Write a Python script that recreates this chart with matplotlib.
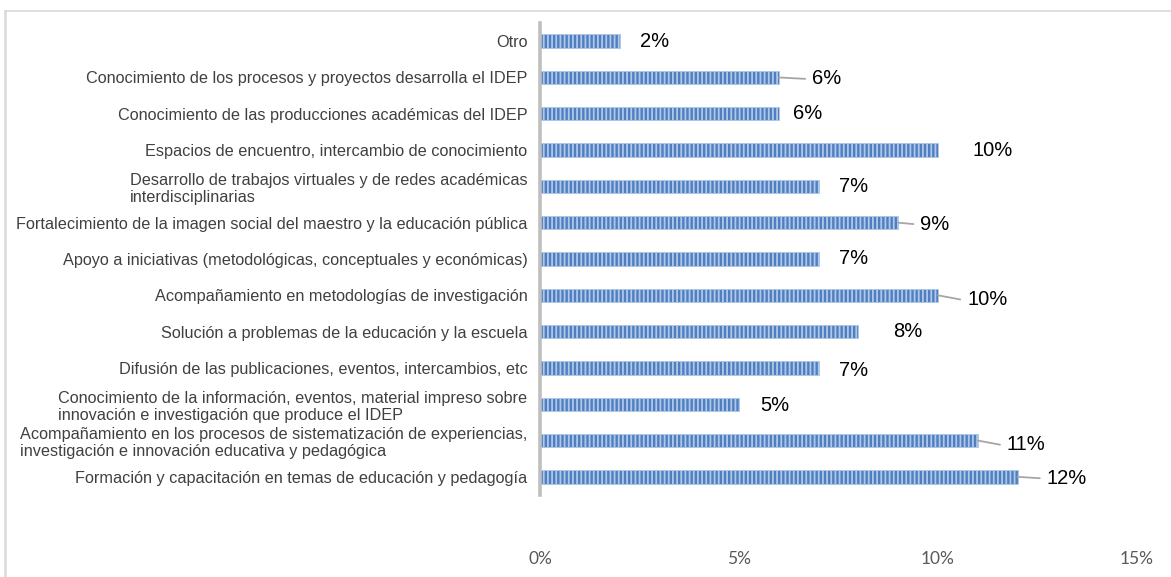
import numpy as np
import matplotlib.pyplot as plt
from matplotlib.lines import Line2D

categories = [
    "Otro",
    "Conocimiento de los procesos y proyectos desarrolla el IDEP",
    "Conocimiento de las producciones académicas del IDEP",
    "Espacios de encuentro, intercambio de conocimiento",
    "Desarrollo de trabajos virtuales y de redes académicas\ninterdisciplinarias",
    "Fortalecimiento de la imagen social del maestro y la educación pública",
    "Apoyo a iniciativas (metodológicas, conceptuales y económicas)",
    "Acompañamiento en metodologías de investigación",
    "Solución a problemas de la educación y la escuela",
    "Difusión de las publicaciones, eventos, intercambios, etc",
    "Conocimiento de la información, eventos, material impreso sobre\ninnovación e investigación que produce el IDEP",
    "Acompañamiento en los procesos de sistematización de experiencias,\ninvestigación e innovación educativa y pedagógica",
    "Formación y capacitación en temas de educación y pedagogía",
]
values = [2, 6, 6, 10, 7, 9, 7, 10, 8, 7, 5, 11, 12]
xticks = [0, 5, 10, 15]

# label offsets in points (dx, dy) and whether a leader line is drawn
label_dx = [15, 24, 10, 25, 15, 16, 15, 21, 25, 15, 15, 21, 21]
label_dy = [0, -1, 0, 0, 0, -1, 0, -3, 0, -2, -1, -3, -1]
leader = [False, True, False, False, False, True, False, True, False, False, False, True, True]

plt.rcParams['hatch.linewidth'] = 1.3

fig = plt.figure(figsize=(11.71, 5.77), dpi=100)
W, H = 1171, 577
ax = fig.add_axes([540 / W, 1 - 495 / H, (1137 - 540) / W, (495 - 23) / H])

y = np.arange(len(values))[::-1]
ax.barh(y, values, height=0.37, color='#4f7fc0', edgecolor='#b0c8e8',
        hatch='||||', linewidth=0.6)

ax.set_xlim(0, 15)
ax.set_ylim(-0.5, len(values) - 0.5)
ax.set_xticks(xticks)
ax.set_xticklabels([f"{t}%" for t in xticks], family='Lato', fontsize=12.5, color='#595959')
ax.tick_params(axis='x', length=0, pad=40)
ax.set_yticks(y)
ax.set_yticklabels(categories, family='Liberation Sans', fontsize=11.7, color='#404040',
                   multialignment='left')
ax.tick_params(axis='y', length=0, pad=9)
for s in ['top', 'right', 'bottom']:
    ax.spines[s].set_visible(False)
ax.spines['left'].set_color('#bfbfbf')
ax.spines['left'].set_linewidth(2.6)

for yi, v, dx, dy, ld in zip(y, values, label_dx, label_dy, leader):
    ax.annotate(f"{v}%", xy=(v, yi), xytext=(dx, dy), textcoords='offset points',
                ha='left', va='center', fontsize=14.5, family='Liberation Sans', color='black')
    if ld:
        ax.annotate("", xy=(v, yi), xytext=(dx - 5, dy), textcoords='offset points',
                    arrowprops=dict(arrowstyle='-', color='#a6a6a6', lw=1.3,
                                    shrinkA=0, shrinkB=0))

# outer border (top and left)
fig.add_artist(Line2D([5 / W, 5 / W], [0, 1 - 11 / H], color='#d9d9d9', lw=1.8))
fig.add_artist(Line2D([5 / W, 1], [1 - 11 / H, 1 - 11 / H], color='#d9d9d9', lw=1.2))

fig.savefig("out.png", dpi=100)
